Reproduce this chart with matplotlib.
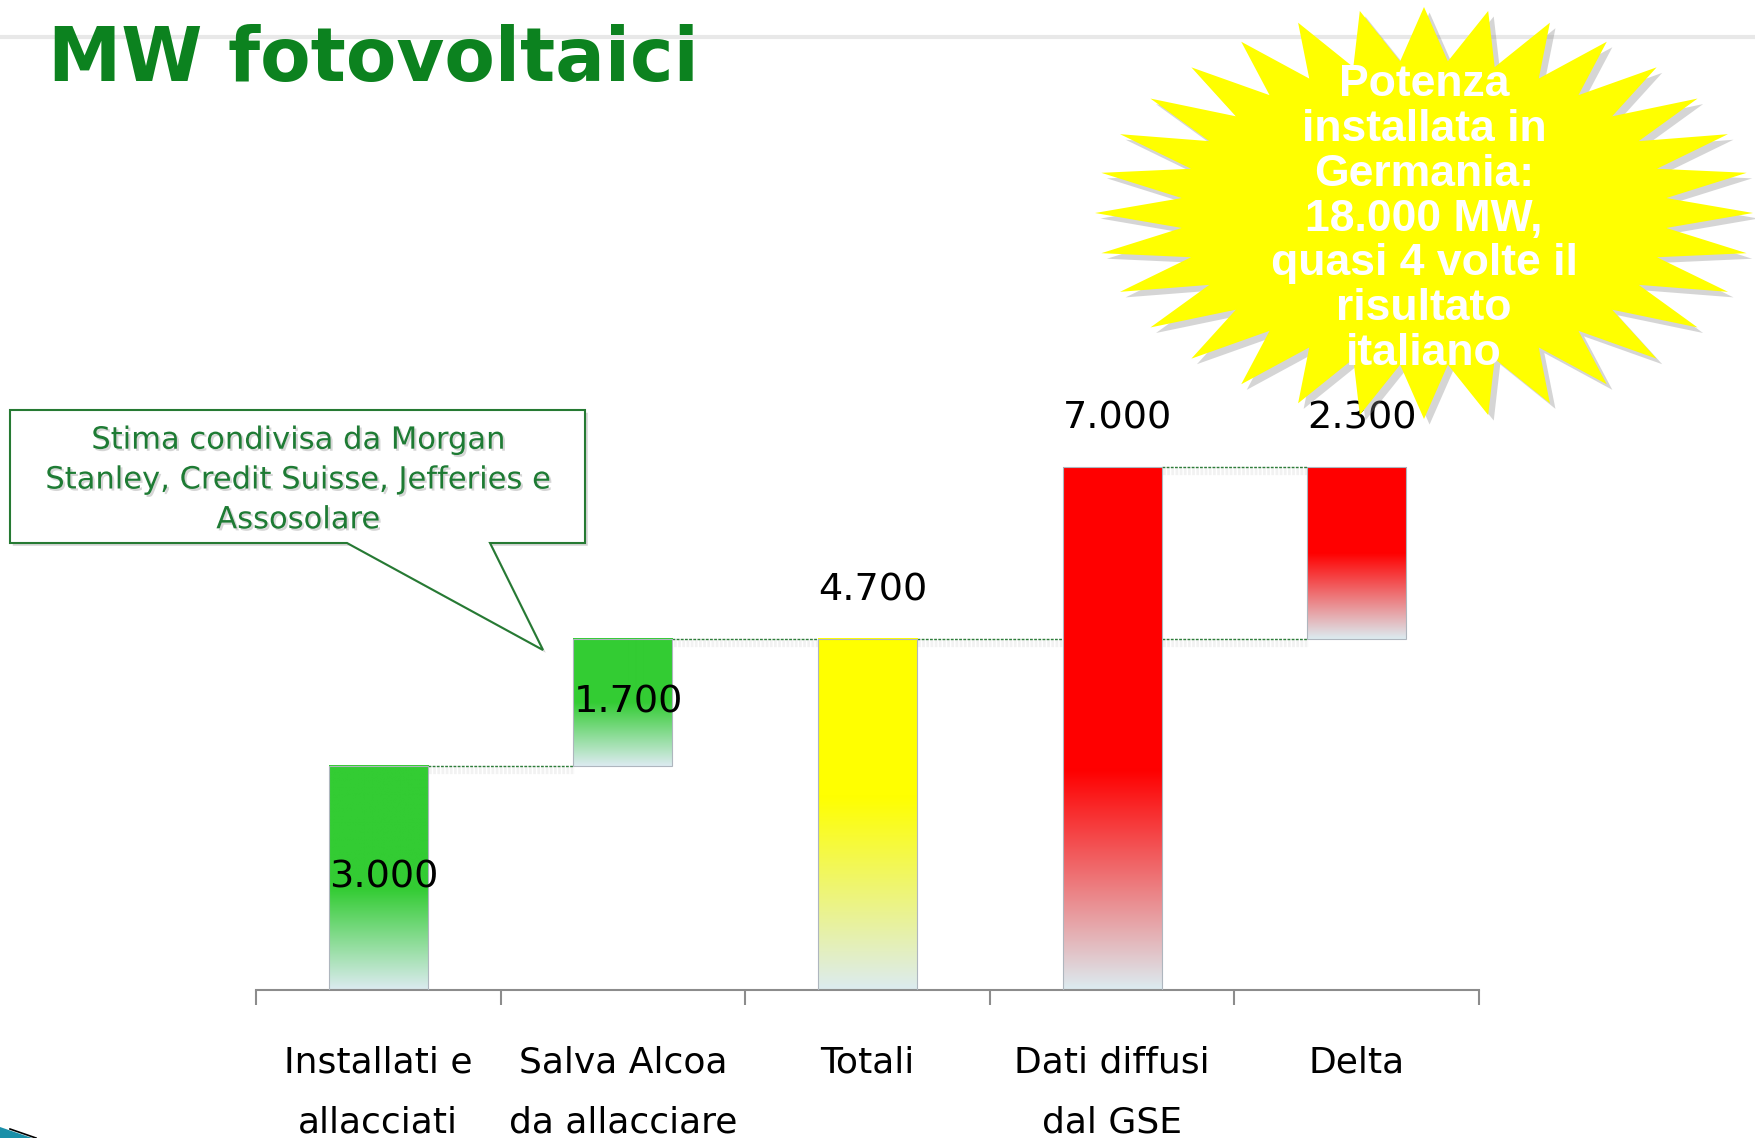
import matplotlib
matplotlib.use('Agg')
import matplotlib.pyplot as plt
import matplotlib.patheffects as pe
from matplotlib.patches import Polygon
from matplotlib.lines import Line2D
from matplotlib.colors import to_rgb
import numpy as np

title = 'MW fotovoltaici'
categories = ['Installati e\nallacciati', 'Salva Alcoa\nda allacciare', 'Totali',
              'Dati diffusi\ndal GSE', 'Delta']
bar_bottoms = [0, 3000, 0, 0, 4700]
bar_values = [3000, 1700, 4700, 7000, 2300]
value_labels = ['3.000', '1.700', '4.700', '7.000', '2.300']
bar_colors = ['#33CC33', '#33CC33', '#FFFF00', '#FF0000', '#FF0000']
solid_part = [0.55, 0.5, 0.45, 0.58, 0.5]
label_inside = [True, True, False, False, False]
# connector lines: from bar, to bar, level
connectors = [(0, 1, 3000), (1, 2, 4700), (2, 3, 4700), (3, 4, 7000), (3, 4, 4700)]

callout_text = 'Stima condivisa da Morgan\nStanley, Credit Suisse, Jefferies e\nAssosolare'
star_lines = ['Potenza', 'installata in', 'Germania:', '18.000 MW,',
              'quasi 4 volte il', 'risultato', 'italiano']

W, H = 1755, 1138
fig = plt.figure(figsize=(W / 100, H / 100), dpi=100)


def fx(px):
    return np.asarray(px) / W


def fy(py):
    return 1 - np.asarray(py) / H


# light line across the top of the slide
fig.add_artist(Line2D([0, 1], [fy(37), fy(37)], color='#E8E8E8', lw=3, zorder=0))

fig.text(fx(48), fy(81), title, fontsize=53, fontweight='bold', color='#0C821F',
         ha='left', va='baseline')

ax = fig.add_axes([fx(256), fy(990), (1479 - 256) / W, 597.7 / H])
bw = 0.405
pale = np.array(to_rgb('#DCEBF0'))
t = np.linspace(0, 1, 256)
for i in range(len(categories)):
    c = np.array(to_rgb(bar_colors[i]))
    s = solid_part[i]
    k = np.clip((t - s) / (1 - s), 0, 1)[:, None]
    img = (c * (1 - k) + pale * k)[:, None, :]
    ax.imshow(img, extent=[i - bw / 2, i + bw / 2, bar_bottoms[i], bar_bottoms[i] + bar_values[i]],
              aspect='auto', origin='upper', interpolation='bilinear', zorder=2)
ax.bar(range(len(categories)), bar_values, bottom=bar_bottoms, width=bw,
       facecolor='none', edgecolor='#AEB6BE', lw=0.8, zorder=3)

for a, b, v in connectors:
    ax.plot([a + bw / 2, b - bw / 2], [v, v], ls=(0, (2, 1)), color='#2E7D3A', lw=1, zorder=1,
            path_effects=[pe.SimpleLineShadow(offset=(1, -3), shadow_color='k', alpha=0.05, linewidth=6),
                          pe.Normal()])

for i, lab in enumerate(value_labels):
    if label_inside[i]:
        ax.annotate(lab, (i, bar_bottoms[i] + bar_values[i] / 2), xytext=(4, 0),
                    textcoords='offset points', ha='center', va='center', fontsize=27.5, zorder=5)
    else:
        ax.annotate(lab, (i, bar_bottoms[i] + bar_values[i]), xytext=(4, 35),
                    textcoords='offset points', ha='center', va='center', fontsize=27.5, zorder=5)

ax.set_xlim(-0.5, len(categories) - 0.5)
ax.set_ylim(0, 8000)
for side in ['left', 'top', 'right']:
    ax.spines[side].set_visible(False)
ax.spines['bottom'].set_color('#8C8C8C')
ax.spines['bottom'].set_linewidth(1.5)
ax.set_yticks([])
ax.set_xticks(np.arange(-0.5, len(categories)))
ax.set_xticklabels([])
ax.tick_params(axis='x', which='major', direction='out', length=11, width=1.5, color='#8C8C8C')
ax.set_xticks(range(len(categories)), minor=True)
ax.set_xticklabels(categories, minor=True, fontsize=26, linespacing=1.95)
ax.tick_params(axis='x', which='minor', length=0, pad=40)
ax.patch.set_visible(False)

# callout
cpts = np.array([(10, 410), (585, 410), (585, 543), (490, 543), (543, 650), (347, 543), (10, 543)])
callout = Polygon(np.column_stack([fx(cpts[:, 0]), fy(cpts[:, 1])]), closed=True,
                  transform=fig.transFigure, facecolor='white', edgecolor='#267A33', lw=1.5,
                  path_effects=[pe.SimplePatchShadow(offset=(2, -2), shadow_rgbFace='#888888', alpha=0.35),
                                pe.Normal()])
fig.add_artist(callout)
fig.text(fx(298), fy(480), callout_text, ha='center', va='center', fontsize=22, color='#1E7B34',
         linespacing=1.47,
         path_effects=[pe.withSimplePatchShadow(offset=(1.5, -1.5), shadow_rgbFace='#999999', alpha=0.4)])

# starburst
n = 32
ang = np.linspace(-np.pi / 2, 3 * np.pi / 2, 2 * n, endpoint=False)
r = np.where(np.arange(2 * n) % 2 == 0, 1.0, 0.74)
sx = 1424 + 329 * r * np.cos(ang)
sy = 213 + 206 * r * np.sin(ang)
star = Polygon(np.column_stack([fx(sx), fy(sy)]), closed=True, transform=fig.transFigure,
               facecolor='#FFFF00', edgecolor='none',
               path_effects=[pe.SimplePatchShadow(offset=(4, -4), shadow_rgbFace='#888888', alpha=0.35),
                             pe.Normal()])
fig.add_artist(star)
fig.text(fx(1424), fy(219), '\n'.join(star_lines), ha='center', va='center', fontsize=32,
         fontweight='bold', family=['Liberation Sans', 'DejaVu Sans'], color='white', linespacing=1.12)

# corner decoration
fig.add_artist(Polygon(np.column_stack([fx([0, 32, 0]), fy([1127, 1138, 1138])]), closed=True,
                       transform=fig.transFigure, facecolor='#1A8FA8', edgecolor='none'))
fig.add_artist(Line2D(fx([10, 36]), fy([1129, 1138]), color='black', lw=1.2))

fig.savefig('out.png', dpi=100)
